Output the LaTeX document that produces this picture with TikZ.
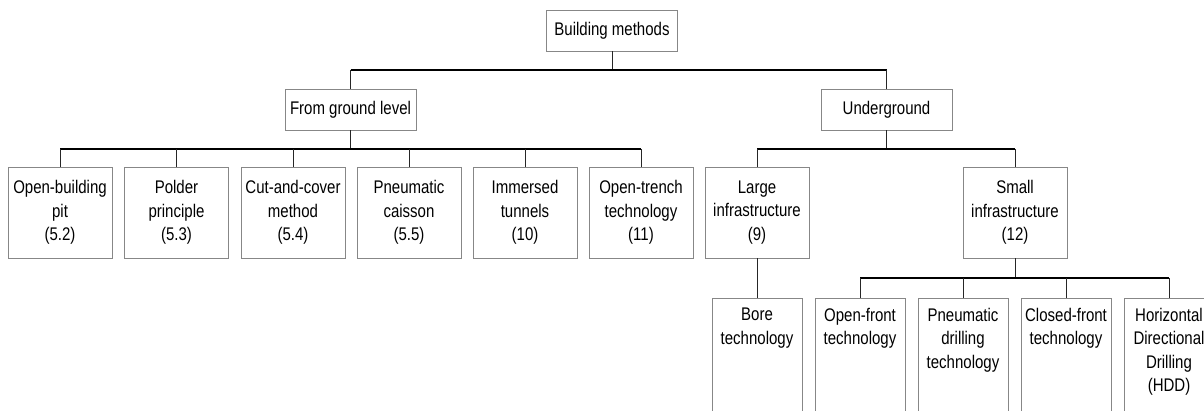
\documentclass[tikz,border=0pt]{standalone}
\usepackage{fontspec}
\setmainfont[FakeStretch=0.82]{Liberation Sans}
\definecolor{boxgray}{RGB}{135,135,135}

\begin{document}
\begin{tikzpicture}[x=1pt,y=-1pt,
    every node/.style={font=\fontsize{18.3}{23.5}\selectfont},
    topbox/.style={draw=boxgray, line width=0.9pt, minimum width=131pt, minimum height=41pt, inner sep=0pt},
    midbox/.style={draw=boxgray, line width=0.9pt, minimum width=104pt, minimum height=91pt, inner sep=0pt, align=center},
    leafbox/.style={draw=boxgray, line width=0.9pt, minimum width=90pt, minimum height=150pt, inner sep=0pt, anchor=north},
    leaftext/.style={anchor=north, align=center, inner sep=0pt, yshift=-10pt},
    stem/.style={line width=0.9pt, draw=black!85},
    bus/.style={line width=1.6pt, draw=black}]
  \clip (0,0) rectangle (1204,411);

  % levels of the bus lines
  \coordinate (bus1) at (0,70);
  \coordinate (bus2) at (0,149);
  \coordinate (bus3) at (0,278);

  % top
  \node[topbox] (bm) at (612,30.5) {Building methods};
  \node[topbox] (fgl) at (350.5,109.5) {From ground level};
  \node[topbox] (ug) at (886.5,109.5) {Underground};

  % from ground level
  \node[midbox] (pit) at (60,212.5) {Open-building\\pit\\(5.2)};
  \node[midbox] (polder) at (176.5,212.5) {Polder\\principle\\(5.3)};
  \node[midbox] (cutcover) at (293,212.5) {Cut-and-cover\\method\\(5.4)};
  \node[midbox] (caisson) at (409,212.5) {Pneumatic\\caisson\\(5.5)};
  \node[midbox] (immersed) at (525,212.5) {Immersed\\tunnels\\(10)};
  \node[midbox] (trench) at (641,212.5) {Open-trench\\technology\\(11)};

  % underground
  \node[midbox] (large) at (757,212.5) {Large\\infrastructure\\(9)};
  \node[midbox] (small) at (1015,212.5) {Small\\infrastructure\\(12)};

  % leaves
  \node[leafbox] (bore) at (757,298) {};
  \node[leafbox] (ofront) at (860,298) {};
  \node[leafbox] (pdrill) at (963,298) {};
  \node[leafbox] (cfront) at (1066,298) {};
  \node[leafbox] (hdd) at (1169,298) {};
  \node[leaftext] (boretext) at (bore.north) {Bore\\technology};
  \node[leaftext] (ofronttext) at (ofront.north) {Open-front\\technology};
  \node[leaftext] (pdrilltext) at (pdrill.north) {Pneumatic\\drilling\\technology};
  \node[leaftext] (cfronttext) at (cfront.north) {Closed-front\\technology};
  \node[leaftext] (hddtext) at (hdd.north) {Horizontal\\Directional\\Drilling\\(HDD)};

  % connectors
  \draw[stem] (bm) -- (bm |- bus1);
  \draw[bus] (fgl |- bus1) -- (ug |- bus1);
  \draw[stem] (fgl |- bus1) -- (fgl);
  \draw[stem] (ug |- bus1) -- (ug);

  \draw[stem] (fgl) -- (fgl |- bus2);
  \draw[bus] (pit |- bus2) -- (trench |- bus2);
  \draw[stem] (pit |- bus2) -- (pit);
  \draw[stem] (polder |- bus2) -- (polder);
  \draw[stem] (cutcover |- bus2) -- (cutcover);
  \draw[stem] (caisson |- bus2) -- (caisson);
  \draw[stem] (immersed |- bus2) -- (immersed);
  \draw[stem] (trench |- bus2) -- (trench);

  \draw[stem] (ug) -- (ug |- bus2);
  \draw[bus] (large |- bus2) -- (small |- bus2);
  \draw[stem] (large |- bus2) -- (large);
  \draw[stem] (small |- bus2) -- (small);

  \draw[stem] (large) -- (bore);

  \draw[stem] (small) -- (small |- bus3);
  \draw[bus] (ofront |- bus3) -- (hdd |- bus3);
  \draw[stem] (ofront |- bus3) -- (ofront);
  \draw[stem] (pdrill |- bus3) -- (pdrill);
  \draw[stem] (cfront |- bus3) -- (cfront);
  \draw[stem] (hdd |- bus3) -- (hdd);
\end{tikzpicture}
\end{document}
